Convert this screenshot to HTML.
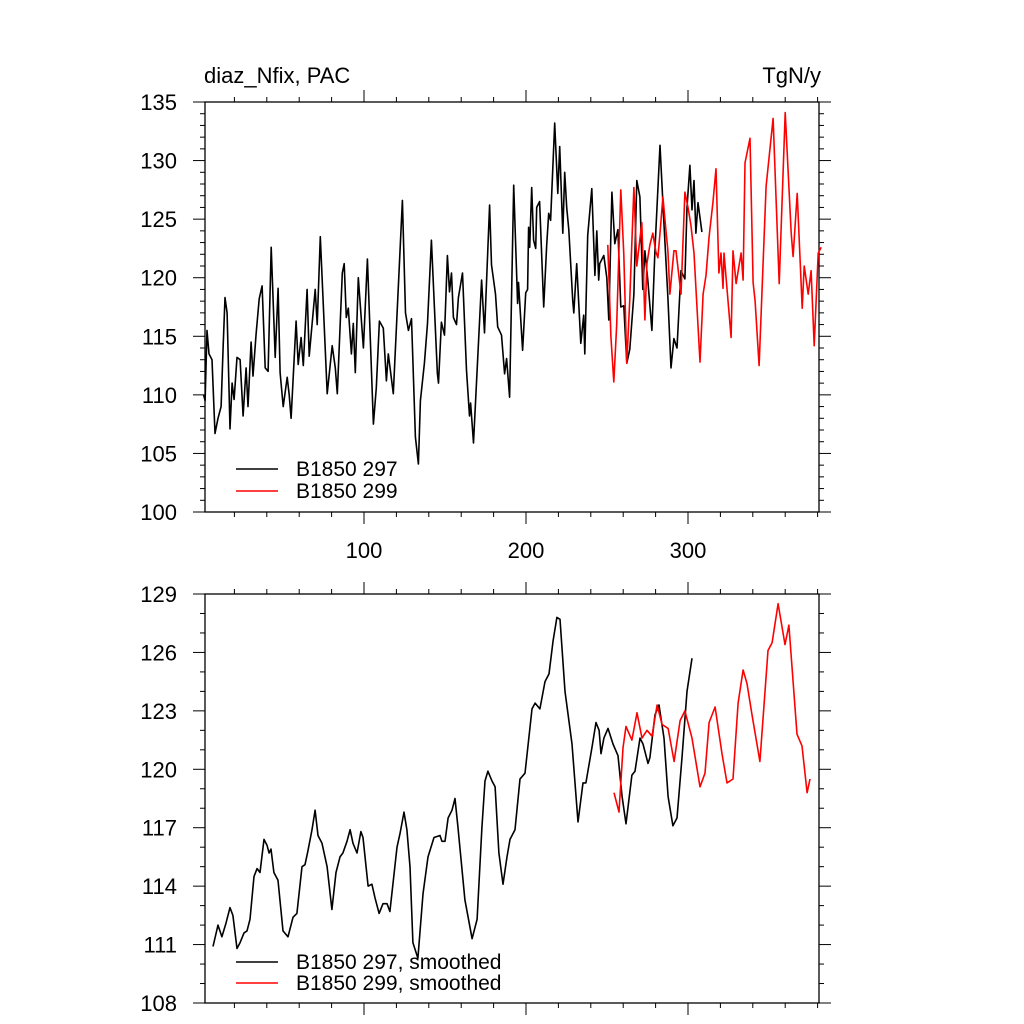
<!DOCTYPE html>
<html><head><meta charset="utf-8"><style>
html,body{margin:0;padding:0;background:#fff}
svg{display:block;font-family:"Liberation Sans",sans-serif}
</style></head><body>
<svg id="c" width="1024" height="1024" viewBox="0 0 1024 1024"></svg>
<script>
// ---- data ----
const topBlackX=[1,1.9,3.1,4.3,6.2,8.0,9.9,11.8,13.0,14.2,15.5,17.3,18.6,19.8,21.6,23.5,25.4,27.2,28.4,30.3,31.5,33.4,35.3,37.1,39.0,40.8,42.7,45.2,47.0,48.2,50.1,52.6,53.8,55.0,58.1,59.4,61.2,62.5,64.9,66.2,69.9,71.1,73.0,77.3,80.4,82.3,83.5,86.6,87.8,89.1,90.3,92.2,93.4,94.6,96.5,99.6,102.1,105.8,107.6,109.5,111.9,113.8,115.0,118.1,123.7,125.6,127.4,129.3,131.7,133.6,134.8,137.3,139.2,141.6,145.3,146.0,147.8,149.7,151.5,152.8,154.0,155.2,157.1,158.3,160.8,163.3,165.1,165.8,167.6,172.6,174.4,177.5,178.7,181.2,182.5,184.9,186.8,188.0,189.9,192.4,194.8,195.4,197.9,199.8,201.0,201.6,202.3,203.5,204.7,206.0,206.6,208.4,210.9,212.8,214.0,215.2,217.7,219.6,220.8,222.7,223.9,225.1,226.4,228.8,229.5,231.3,233.8,235.6,236.3,238.1,240.6,242.5,243.7,244.9,245.5,248.0,249.9,251.1,253.0,254.8,256.7,258.5,260.4,262.2,264.1,266.6,268.4,270.3,272.1,273.4,275.2,277.7,279.6,282.7,285.1,287.6,289.5,291.3,293.2,295.7,298.1,299.4,301.2,302.5,303.7,304.9,306.2,308.6];
const topBlackY=[110,109.5,115.5,113.5,113,106.7,108,109,114,118.3,117,107.1,111,109.6,113.2,113,108.2,112.3,109,114.5,111.6,115.2,118.2,119.3,112.3,112,122.6,113.2,119.1,111.9,109,111.5,110,108,116.3,112.6,114.9,112.5,119,113.3,119,116,123.5,110.1,114.2,112.3,110.1,120.4,121.2,116.6,117.4,113.5,116.1,111.9,120,114,121.6,107.5,110.6,116.3,115.7,111.2,113.5,110.1,126.6,117,115.5,116.5,106.4,104.1,109.5,112.7,116.1,123.2,111.8,111,116.2,115.1,121.9,118.8,120.4,116.6,116,118.3,120.4,112.1,108.2,109.3,105.9,119.8,115.3,126.2,121.1,118.6,115.8,115.1,111.8,113.1,109.8,127.9,117.8,119.6,113.8,118.7,119,124.3,122.6,127.7,123.2,122.5,126,126.5,117.5,122.8,125.5,124.9,133.2,127.2,131.2,123.8,129,126,124.1,118.1,117,121.2,114.4,116.8,113.5,123.6,127.6,120.2,124,119.8,121.2,121.9,120,116.4,127.3,122.9,124.1,117.5,117.6,112.7,113.9,118.6,128.3,126.9,119,122.3,119.8,115.5,122.5,131.3,124.7,118.3,112.3,114.8,114,120.6,119.9,126,129.6,125.8,128.3,123.8,126.4,123.9];
const topRedX=[250.5,252.4,254.2,256,258.5,260.4,262.2,264,266.6,268.4,271.5,273.4,274.6,276.5,278.3,280.2,281.4,282.7,284.5,286.4,287.6,288.8,291.3,292.6,295.7,298.1,300,301.8,303.7,307.4,309.3,311.1,313,315.4,317.3,319.1,320.4,321.6,322.2,326.6,327.8,329.7,332.8,334,335.2,338.3,340.2,341.4,343.9,348.2,352.5,356.3,360,363.7,364.9,367.4,370.5,371.7,374.2,376,377.9,380.4,382.2];
const topRedY=[122.8,115,111.1,116,127.5,122,112.7,118,127.7,121,124.7,116.4,121.2,122.8,123.8,122.2,121.7,123.8,126.9,124,122.3,118.6,122.3,122.3,118.6,127.3,126,124.5,122.1,112.8,118.6,120.2,123.5,126.4,129.3,120.4,122.1,119.1,122.1,114.9,122.3,119.5,122.1,119.8,129.8,131.9,119.6,118,112.5,127.8,133.6,119.5,134.1,123.8,121.8,127.2,117.4,121,118.6,120.6,114.2,122.1,122.6];
const botBlackX=[6.8,9.9,12.3,14.8,17.3,19.1,21.6,23.5,25.9,27.8,29.6,32.1,34.0,35.8,38.3,40.1,41.4,42.6,44.4,46.9,50.0,53.1,56.2,58.6,61.7,63.6,65.4,67.9,69.8,71.6,74.1,77.2,80.2,82.7,85.2,87.0,89.5,91.4,93.2,95.7,98.1,99.4,102.5,104.9,106.8,109.3,111.7,114.2,116.0,120.4,122.2,124.7,126.5,128.4,130.2,133.3,136.4,139.5,143.2,146.9,148.1,150.0,151.9,154.3,156.2,158.0,162.3,166.7,169.8,172.8,174.7,176.5,179.0,180.9,183.3,185.8,188.3,190.1,193.2,196.3,199.4,203.7,205.6,208.6,211.7,214.2,216.7,219.1,221.0,224.1,228.4,232.1,235.2,237.0,240.7,243.2,245.1,246.3,248.1,250.6,253.7,256.8,259.3,261.7,265.4,267.3,270.4,272.2,275.3,276.5,279.6,282.1,285.2,287.7,290.7,293.2,296.3,299.4,302.5];
const botBlackY=[110.9,112.0,111.4,112.1,112.9,112.5,110.8,111.1,111.6,111.7,112.3,114.5,114.9,114.7,116.4,116.1,115.7,115.9,114.7,114.3,111.7,111.4,112.4,112.6,115,115.1,115.8,116.9,117.9,116.6,116.2,115,112.8,114.7,115.5,115.7,116.3,116.9,116.2,115.7,116.8,116.5,114,114.1,113.4,112.6,113.1,113.1,112.7,116,116.7,117.8,116.9,115,111.1,110.3,113.6,115.5,116.5,116.6,116.3,116.3,117.5,117.9,118.5,117,113.3,111.3,112.3,117,119.4,119.9,119.4,119.1,115.7,114.1,115.5,116.4,116.9,119.5,119.8,123.1,123.4,123.1,124.5,124.9,126.6,127.8,127.7,124,121.3,117.3,119.3,119.3,121.1,122.4,122,120.8,121.6,122.1,121.3,120.7,118.6,117.2,119.7,119.9,121.6,121.3,120.3,120.6,122.8,123.3,121.6,118.6,117.1,117.5,120.6,124,125.7];
const botRedX=[254.3,257.4,259.9,261.7,265.4,268.5,271.6,274.7,277.8,280.9,284.0,287.7,291.4,295.1,298.1,302.5,307.4,310.5,313.0,316.7,321.0,324.1,327.8,330.9,334.0,336.4,339.5,344.4,349.4,351.9,355.6,359.9,362.3,367.3,370.4,373.5,375.3];
const botRedY=[118.8,117.8,121.1,122.2,121.5,122.9,121.6,122,121.7,123.3,122.3,122.1,120.4,122.5,123.0,121.6,119.1,119.8,122.4,123.2,120.8,119.3,119.5,123.4,125.1,124.4,122.8,120.4,126.1,126.5,128.5,126.4,127.4,121.8,121.2,118.8,119.5];
const topYTicks=[100,105,110,115,120,125,130,135];
const botYTicks=[108,111,114,117,120,123,126,129];
const xTicks=[100,200,300];

// ---- layout ----
const NS='http://www.w3.org/2000/svg';
const svg=document.getElementById('c');
const X0=205,X1=819;
const xs=v=>202+v*1.62;
function el(tag,attrs,parent){const e=document.createElementNS(NS,tag);for(const k in attrs)e.setAttribute(k,attrs[k]);(parent||svg).appendChild(e);return e;}

function panel(name,yTop,yBot,vMin,vMax,yTicks,minorStep,bx,by,rx,ry,labelsX,legend){
  const g=el('g',{});
  
  
  const ys=v=>yBot-(v-vMin)/(vMax-vMin)*(yBot-yTop);
  const frame=el('rect',{x:X0,y:yTop,width:X1-X0,height:yBot-yTop,fill:'none',stroke:'#000','stroke-width':1.3},g);
  
  
  for(let v=vMin;v<=vMax+1e-6;v+=minorStep){
    const major=yTicks.includes(Math.round(v));
    const L=major?12:5,y=ys(v);
    el('line',{x1:X0,x2:X0-L,y1:y,y2:y,stroke:'#000','stroke-width':1},g);
    el('line',{x1:X1,x2:X1+L,y1:y,y2:y,stroke:'#000','stroke-width':1},g);
  }
  yTicks.forEach(v=>{
    const t=el('text',{x:177,y:ys(v)+8,'text-anchor':'end','font-size':22},g);
    t.textContent=v;
    
    
  });
  for(let v=20;v<=380;v+=20){
    const major=v%100===0,L=major?12:5,x=xs(v);
    if(x<X0||x>X1)continue;
    el('line',{x1:x,x2:x,y1:yTop,y2:yTop-L,stroke:'#000','stroke-width':1},g);
    el('line',{x1:x,x2:x,y1:yBot,y2:yBot+L,stroke:'#000','stroke-width':1},g);
  }
  if(labelsX){xTicks.forEach(v=>{
    const t=el('text',{x:xs(v),y:yBot+46,'text-anchor':'middle','font-size':22},g);
    t.textContent=v;
    
    
  });}
  const line=(X,Y,c,n)=>{
    const p=el('polyline',{points:X.map((x,i)=>xs(x).toFixed(1)+','+ys(Y[i]).toFixed(1)).join(' '),fill:'none',stroke:c,'stroke-width':1.6,'stroke-linejoin':'round'},g);
    
    
  };
  line(bx,by,'#000',name+'-series-297');
  line(rx,ry,'#f00',name+'-series-299');
  legend.forEach((lg,i)=>{
    const y=lg.y;
    const l=el('line',{x1:236,x2:278,y1:y,y2:y,stroke:lg.c,'stroke-width':1.5},g);
    
    
    const t=el('text',{x:296,y:y+7,'font-size':21},g);
    t.textContent=lg.t;
    
    
  });
}
panel('top-panel',102,512,100,135,topYTicks,1,topBlackX,topBlackY,topRedX,topRedY,true,
  [{y:469,c:'#000',t:'B1850 297'},{y:491,c:'#f00',t:'B1850 299'}]);
panel('bottom-panel',594,1003,108,129,botYTicks,1,botBlackX,botBlackY,botRedX,botRedY,false,
  [{y:962,c:'#000',t:'B1850 297, smoothed'},{y:983,c:'#f00',t:'B1850 299, smoothed'}]);
const t1=el('text',{x:204,y:83,'font-size':22});
t1.textContent='diaz_Nfix, PAC';


const t2=el('text',{x:821,y:83,'font-size':22,'text-anchor':'end'});
t2.textContent='TgN/y';


</script>
</body></html>
